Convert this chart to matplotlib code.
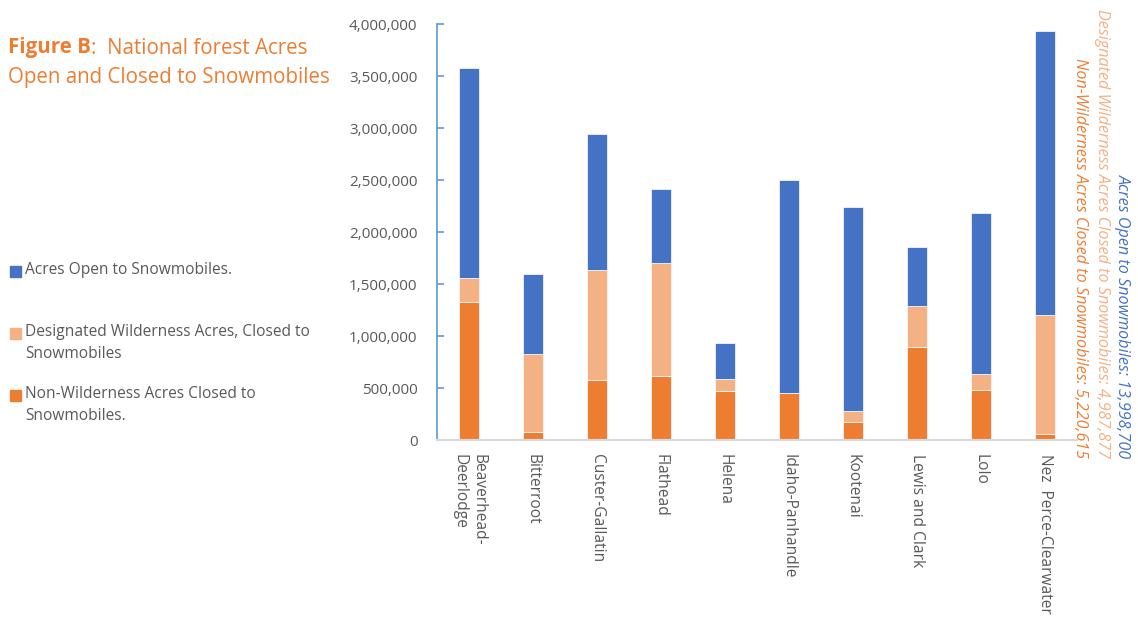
import matplotlib
matplotlib.use("Agg")
import matplotlib.pyplot as plt
import numpy as np

# National forests and acreage breakdown (acres)
forests = ["Beaverhead-\nDeerlodge", "Bitterroot", "Custer-Gallatin", "Flathead", "Helena",
           "Idaho-Panhandle", "Kootenai", "Lewis and Clark", "Lolo", "Nez  Perce-Clearwater"]
non_wilderness_closed = [1330000, 74000, 577000, 615000, 474000, 449000, 176000, 897000, 481000, 58000]
wilderness_closed = [224000, 753000, 1054000, 1084000, 113000, 0, 100000, 391000, 154000, 1144000]
open_acres = [2026000, 766000, 1311000, 718000, 342000, 2054000, 1961000, 571000, 1544000, 2734000]

series_labels = [["Acres Open to Snowmobiles."],
                 ["Designated Wilderness Acres, Closed to", "Snowmobiles"],
                 ["Non-Wilderness Acres Closed to", "Snowmobiles."]]
totals_text = ["Acres Open to Snowmobiles: 13,998,700",
               "Designated Wilderness Acres Closed to Snowmobiles: 4,987,877",
               "Non-Wilderness Acres Closed to Snowmobiles: 5,220,615"]

BLUE = "#4472C4"
LIGHT = "#F4B183"
ORANGE = "#ED7D31"
GRAY = "#595959"
FONT = "Open Sans"

plt.rcParams["font.family"] = [FONT, "DejaVu Sans"]

W, H = 1138, 617
fig = plt.figure(figsize=(W / 100, H / 100), dpi=100)

def fx(px):
    return px / W

def fy(py):
    return 1 - py / H

ax = fig.add_axes([fx(437), fy(440), fx(1077) - fx(437), fy(24) - fy(440)])

x = np.arange(len(forests))
nw = np.array(non_wilderness_closed)
wd = np.array(wilderness_closed)
op = np.array(open_acres)
bw = 0.31
ax.bar(x, nw, bw, color=ORANGE, edgecolor="white", linewidth=0.5)
ax.bar(x, wd, bw, bottom=nw, color=LIGHT, edgecolor="white", linewidth=0.5)
ax.bar(x, op, bw, bottom=nw + wd, color=BLUE, edgecolor="white", linewidth=0.5)

ax.set_xlim(-0.5, len(forests) - 0.5)
ax.set_ylim(0, 4000000)
ax.set_yticks(np.arange(0, 4000001, 500000))
ax.set_yticklabels([f"{v:,}" for v in range(0, 4000001, 500000)])
ax.tick_params(axis="y", direction="in", length=5, width=1.2, color="#5B9BD5",
               labelcolor=GRAY, labelsize=11, pad=14)
ax.set_xticks(x)
ax.set_xticklabels(forests, rotation=-90, ha="center", va="top",
                   multialignment="left")
ax.tick_params(axis="x", length=0, labelcolor=GRAY, labelsize=11.2, pad=10)

for s in ["top", "right"]:
    ax.spines[s].set_visible(False)
ax.spines["left"].set_color("#5B9BD5")
ax.spines["left"].set_linewidth(1.2)
ax.spines["bottom"].set_color("#D9D9D9")
ax.spines["bottom"].set_linewidth(1.6)

# Title: bold figure tag followed by the regular-weight caption
renderer = fig.canvas.get_renderer()
tag = fig.text(fx(8), fy(48), "Figure B", color=ORANGE, fontsize=14.8, fontweight="bold",
               va="center", ha="left")
tag_right = tag.get_window_extent(renderer).x1
fig.text(tag_right / W, fy(48), ":  National forest Acres", color=ORANGE, fontsize=14.8,
         va="center", ha="left")
fig.text(fx(8), fy(77), "Open and Closed to Snowmobiles", color=ORANGE, fontsize=14.8,
         va="center", ha="left")

# Legend drawn as colored squares with labels
leg_y = [271, 333, 395]
for col, lines, yy in zip([BLUE, LIGHT, ORANGE], series_labels, leg_y):
    fig.patches.append(plt.Rectangle((fx(10), fy(yy + 5.5)), fx(11), fy(0) - fy(11),
                                     transform=fig.transFigure, color=col))
    for i, line in enumerate(lines):
        fig.text(fx(25), fy(yy - 1 + 22 * i), line, color=GRAY, fontsize=11.2,
                 va="center", ha="left")

# Rotated totals on the right
for col, txt, xx in zip([BLUE, LIGHT, ORANGE], totals_text, [1123, 1102, 1080]):
    fig.text(fx(xx), fy(458), txt, color=col, fontsize=11.6, style="italic",
             rotation=-90, ha="center", va="bottom")

fig.savefig("out.png", dpi=100)
